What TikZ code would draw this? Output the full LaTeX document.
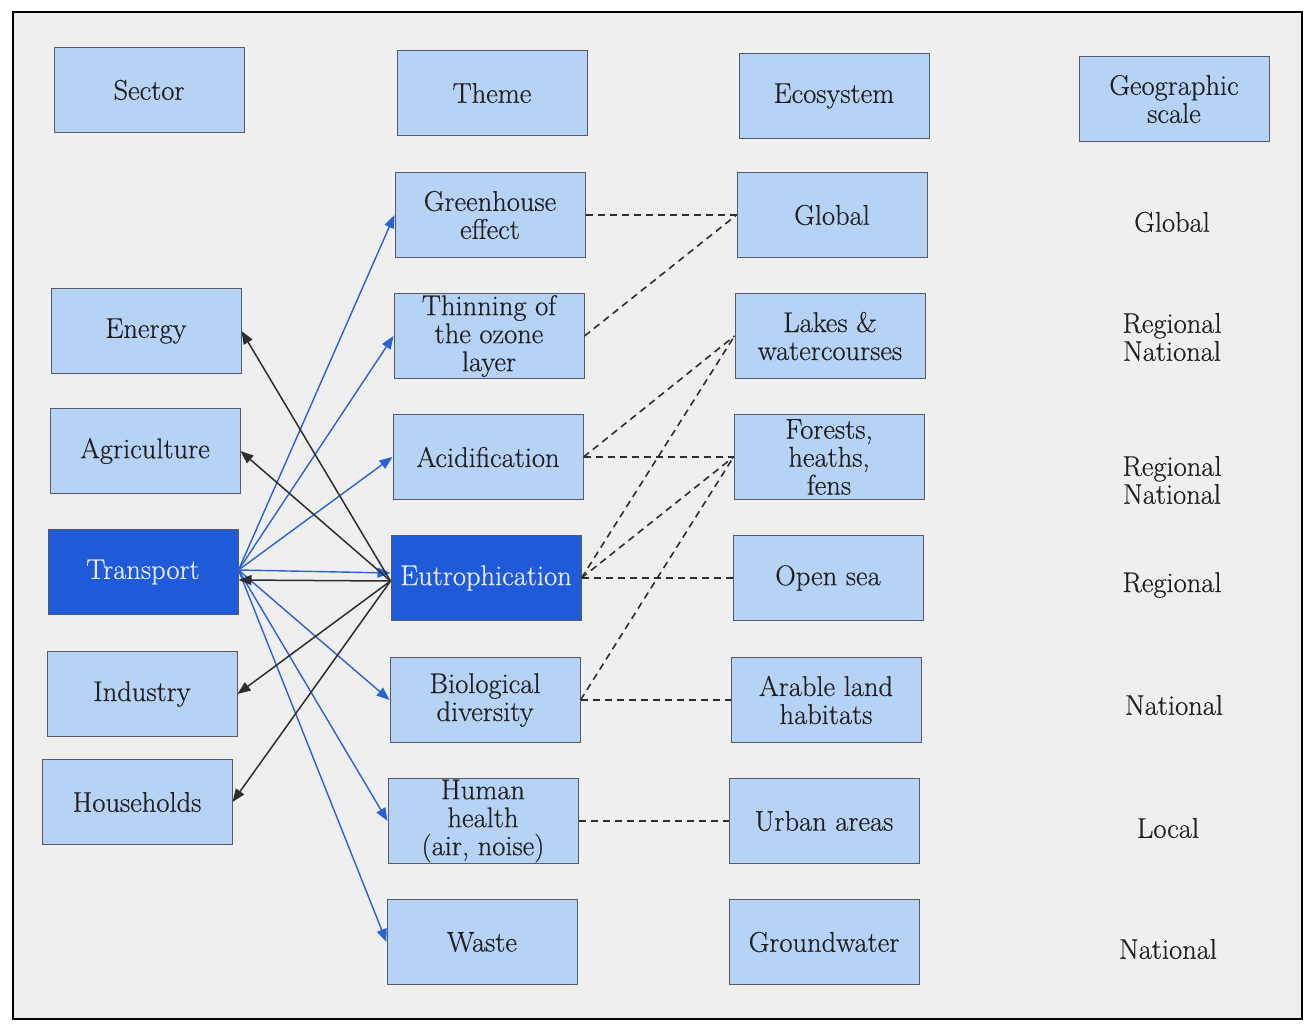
\documentclass[tikz,border=0pt]{standalone}
\usepackage{fontspec}
\setmainfont{Latin Modern Roman}[FakeBold=0.45]
\usetikzlibrary{arrows.meta}
\definecolor{bgray}{HTML}{EFEFEF}
\definecolor{lblue}{HTML}{B6D2F5}
\definecolor{dblue}{HTML}{1F5AD8}
\definecolor{ablue}{HTML}{2B62D2}
\definecolor{boxline}{HTML}{555A66}
\definecolor{dline}{HTML}{2E2E2E}
\tikzset{
  box/.style={draw=boxline, line width=1pt, fill=lblue, minimum width=190pt, minimum height=85pt,
    inner sep=0pt, align=center, font=\fontsize{28.5}{28}\selectfont, text=black!88},
  hbox/.style={box, fill=dblue, text=white!92!blue},
  lbl/.style={align=center, font=\fontsize{28.5}{28}\selectfont, text=black!88},
  barrow/.style={draw=ablue, line width=1.4pt, -{Triangle[length=13pt,width=10pt]}, fill=ablue},
  karrow/.style={draw=dline, line width=1.5pt, -{Triangle[length=13pt,width=10pt]}, fill=dline},
  dlink/.style={draw=dline, line width=1.6pt, dash pattern=on 7pt off 5pt}
}
\begin{document}
\begin{tikzpicture}[x=1pt,y=-1pt]
\useasboundingbox (0,0) rectangle (1309,1023);
\fill[white] (0,0) rectangle (1309,1023);
\draw[line width=1.5pt, fill=bgray] (13,12) rectangle (1302,1019);

% headers
\node[box] (sector) at (149,90) {Sector};
\node[box] (theme) at (492,93) {Theme};
\node[box] (ecosys) at (834,96) {Ecosystem};
\node[box] (geo) at (1174,99) {Geographic\\scale};

% sectors
\node[box] (energy) at (146,331) {Energy};
\node[box] (agri) at (145,451) {Agriculture};
\node[hbox] (transport) at (143,572) {Transport};
\node[box] (industry) at (142,694) {Industry};
\node[box] (households) at (137,802) {Households};

% themes
\node[box] (greenhouse) at (490,215) {Greenhouse\\effect};
\node[box] (ozone) at (489,336) {Thinning of\\the ozone\\layer};
\node[box] (acid) at (488,457) {Acidification};
\node[hbox] (eutro) at (486,578) {Eutrophication};
\node[box] (biodiv) at (485,700) {Biological\\diversity};
\node[box] (health) at (483,821) {Human\\health\\(air, noise)};
\node[box] (waste) at (482,942) {Waste};

% ecosystems
\node[box] (global) at (832,215) {Global};
\node[box] (lakes) at (830,336) {Lakes \&\\watercourses};
\node[box] (forests) at (829,457) {Forests,\\heaths,\\fens};
\node[box] (sea) at (828,578) {Open sea};
\node[box] (arable) at (826,700) {Arable land\\habitats};
\node[box] (urban) at (824,821) {Urban areas};
\node[box] (ground) at (824,942) {Groundwater};

% geographic scale
\node[lbl] (g1) at (1172,222) {Global};
\node[lbl] (g2) at (1172,337) {Regional\\National};
\node[lbl] (g3) at (1172,480) {Regional\\National};
\node[lbl] (g4) at (1172,585) {Regional};
\node[lbl] (g5) at (1174,705) {National};
\node[lbl] (g6) at (1168,828) {Local};
\node[lbl] (g7) at (1168,949) {National};

% blue arrows from Transport
\coordinate (tsrc) at ([yshift=2pt]transport.east);
\draw[barrow] (tsrc) -- (greenhouse.west);
\draw[barrow] (tsrc) -- (ozone.west);
\draw[barrow] (tsrc) -- (acid.west);
\draw[barrow] (tsrc) -- ([yshift=5pt]eutro.west);
\draw[barrow] (tsrc) -- (biodiv.west);
\draw[barrow] (tsrc) -- (health.west);
\draw[barrow] (tsrc) -- (waste.west);

% black arrows from Eutrophication
\coordinate (esrc) at ([yshift=-3pt]eutro.west);
\draw[karrow] (esrc) -- (energy.east);
\draw[karrow] (esrc) -- (agri.east);
\draw[karrow] (esrc) -- ([yshift=-8pt]transport.east);
\draw[karrow] (esrc) -- (industry.east);
\draw[karrow] (esrc) -- (households.east);

% dashed links
\draw[dlink] (greenhouse.east) -- (global.west);
\draw[dlink] (ozone.east) -- (global.west);
\draw[dlink] (acid.east) -- (lakes.west);
\draw[dlink] (acid.east) -- (forests.west);
\draw[dlink] (eutro.east) -- (lakes.west);
\draw[dlink] (eutro.east) -- (forests.west);
\draw[dlink] (eutro.east) -- (sea.west);
\draw[dlink] (biodiv.east) -- (forests.west);
\draw[dlink] (biodiv.east) -- (arable.west);
\draw[dlink] (health.east) -- (urban.west);
\end{tikzpicture}
\end{document}
